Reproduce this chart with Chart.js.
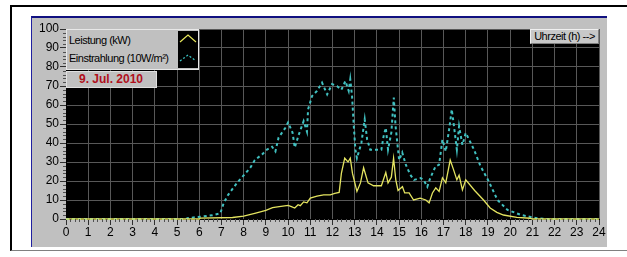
<!DOCTYPE html>
<html lang="de">
<head>
  <meta charset="UTF-8" />
  <title>Leistung / Einstrahlung 9. Jul. 2010</title>
  <script src="https://cdn.jsdelivr.net/npm/chart.js"></script>
  <style>
    body { margin: 0; width: 627px; height: 257px; background: #fff; position: relative; overflow: hidden; font-family: "Liberation Sans", Arial, sans-serif; }
    .frame { position: absolute; left: 10px; top: 5px; width: 640px; height: 243px; border-top: 2px solid #000; border-left: 2px solid #000; border-bottom: 1px solid #808080; }
    .panel { position: absolute; left: 31px; top: 16px; width: 576px; height: 231px; background: #c0c0c0; box-sizing: border-box; border-top: 2px solid #101080; border-left: 1px solid #2020a0; }
    #chart { position: absolute; left: 31px; top: 16px; }
    .legend { position: absolute; left: 66px; top: 29px; width: 133px; height: 41px; background: #c0c0c0; box-sizing: border-box; border: 1px solid #e8e8e8; font-size: 11px; letter-spacing: -0.5px; color: #000; white-space: nowrap; }
    .legend .l1 { position: absolute; left: 2px; top: 4px; }
    .legend .l2 { position: absolute; left: 2px; top: 22px; }
    .legend svg { position: absolute; left: 111px; top: 1px; }
    .date { position: absolute; left: 66px; top: 71px; width: 91px; height: 17px; background: #c0c0c0; box-sizing: border-box; border: 1px solid #e0e0e0; color: #b0101c; font-weight: bold; font-size: 12px; padding-left: 12px; line-height: 15px; }
    .unit { position: absolute; left: 530px; top: 29px; width: 69px; height: 15px; background: #c8c8c8; box-sizing: border-box; border: 1px solid #f0f0f0; border-right-color: #808080; border-bottom-color: #808080; font-size: 11px; letter-spacing: -0.5px; line-height: 13px; text-align: center; color: #000; white-space: nowrap; }
  </style>
</head>
<body>
  <div class="frame"></div>
  <div class="panel"></div>
  <canvas id="chart" width="576" height="231"></canvas>

  <div class="legend">
    <span class="l1">Leistung (kW)</span>
    <span class="l2">Einstrahlung (10W/m²)</span>
    <svg width="20" height="37" viewBox="0 0 20 37">
      <rect x="0" y="0" width="20" height="37" fill="#000"/>
      <polyline points="2,11 10,4 18,11" fill="none" stroke="#e6e65a" stroke-width="1.2"/>
      <polyline points="2,30 10,24 18,30" fill="none" stroke="#3cc8c8" stroke-width="1.2" stroke-dasharray="2,2"/>
    </svg>
  </div>
  <div class="date">9. Jul. 2010</div>
  <div class="unit">Uhrzeit (h) --&gt;</div>

  <script>
    // Leistung (kW), solid yellow
    const powerHours = [0, 6, 6.05, 7.5, 8, 8.5, 9, 9.3, 9.6, 10, 10.15, 10.3, 10.45, 10.55, 10.7, 10.85, 11, 11.3, 11.6, 11.9, 12.1, 12.3,
      12.4, 12.55, 12.7, 12.8, 12.9, 13.1, 13.26, 13.4, 13.6, 13.85, 14.2, 14.4, 14.5, 14.65, 14.75, 14.85, 14.95, 15.15, 15.25,
      15.45, 15.65, 15.95, 16.2, 16.35, 16.5, 16.65, 16.8, 16.95, 17.1, 17.3, 17.45, 17.6, 17.7, 17.85, 18, 18.4, 18.8, 19.1,
      19.4, 19.7, 20.3, 20.9, 21, 24];
    const powerValues = [0, 0, 0.5, 0.8, 1.5, 3, 4.5, 6, 6.5, 7.2, 6.5, 5.8, 7.5, 7, 9, 8.5, 11, 12, 12.7, 12.7, 13.5, 14,
      24, 32, 30, 32, 24, 14.5, 19, 27, 19, 17.5, 17.5, 24.5, 19, 22, 32, 20.6, 15, 17, 13.7,
      13.7, 10, 11, 10, 8.5, 13.7, 16.4, 14.5, 21.7, 19, 31, 26, 20.6, 23, 15.3, 20.6, 15, 10, 5.8,
      3.5, 2.1, 0.9, 0.4, 0, 0];

    // Einstrahlung (10 W/m²), dashed cyan
    const irrHours = [0, 5.4, 5.5, 6.05, 6.6, 6.95, 7.1, 7.3, 7.7, 8, 8.3, 8.5, 8.83, 9.05, 9.28, 9.43, 9.57, 9.88, 10, 10.2,
      10.3, 10.47, 10.7, 10.85, 10.9, 11.08, 11.3, 11.53, 11.76, 11.98, 12.2, 12.4, 12.58, 12.73, 12.8, 12.88, 12.96, 13.03,
      13.1, 13.3, 13.45, 13.56, 13.7, 14.2, 14.3, 14.4, 14.5, 14.65, 14.76, 14.84, 15, 15.14, 15.3, 15.5, 15.67, 15.97, 16.1,
      16.27, 16.4, 16.64, 16.8, 16.95, 17.1, 17.25, 17.37, 17.47, 17.6, 17.7, 17.85, 18, 18.15, 18.37, 18.67, 19, 19.43,
      19.88, 20.5, 21.2, 21.7, 24];
    const irrValues = [0, 0, 0.5, 1.2, 2, 3, 8.4, 12.7, 19, 23, 27, 31, 34, 36.5, 38, 35.6, 42.8, 48, 50.8, 45.5,
      37.6, 44, 51.5, 46, 57.7, 64.7, 67.4, 71.8, 65.6, 71, 70, 68, 72.6, 67.4, 73.5, 64.7, 48.8, 36.5,
      32, 40, 52.4, 41.8, 36.5, 36.5, 43.5, 48, 36.5, 45.5, 63.9, 48.8, 31, 35, 28.6, 23.3, 20.6, 21.5, 20.6,
      17, 21.5, 27.7, 28.6, 41.8, 35.6, 47, 57.7, 48.8, 36.5, 48.8, 39, 45.3, 41.8, 36.5, 27.7, 20.6, 10,
      4.8, 2.1, 0.4, 0, 0];

    const xTicks = [0, 24, 1];
    const yTicks = [0, 100, 10];

    const toPoints = (xs, ys) => xs.map((x, i) => ({ x: x, y: ys[i] }));

    // black plot background + ruler minor ticks
    const plotDecor = {
      id: 'plotDecor',
      beforeDraw(chart) {
        const a = chart.chartArea, ctx = chart.ctx;
        ctx.save();
        ctx.fillStyle = '#000';
        ctx.fillRect(a.left, a.top, a.right - a.left, a.bottom - a.top);
        ctx.restore();
      },
      afterDraw(chart) {
        const a = chart.chartArea, ctx = chart.ctx;
        const xs = chart.scales.x, ys = chart.scales.y;
        ctx.save();
        ctx.strokeStyle = '#505050';
        ctx.lineWidth = 1;
        ctx.beginPath();
        for (let i = 0; i <= 120; i++) {
          if (i % 5 === 0) continue;
          const px = Math.round(xs.getPixelForValue(i / 5)) + 0.5;
          ctx.moveTo(px, a.bottom);
          ctx.lineTo(px, a.bottom + 3);
        }
        for (let v = 0; v <= 100; v += 2) {
          if (v % 10 === 0) continue;
          const py = Math.round(ys.getPixelForValue(v)) + 0.5;
          ctx.moveTo(a.left - 3, py);
          ctx.lineTo(a.left, py);
        }
        ctx.stroke();
        ctx.restore();
      }
    };

    new Chart(document.getElementById('chart'), {
      type: 'line',
      data: {
        datasets: [{
          label: 'Leistung (kW)',
          data: toPoints(powerHours, powerValues),
          borderColor: '#e4e460',
          borderWidth: 1.3,
          pointRadius: 0,
          tension: 0,
          order: 0,
          clip: 3
        }, {
          label: 'Einstrahlung (10W/m²)',
          data: toPoints(irrHours, irrValues),
          borderColor: '#40c0c0',
          borderWidth: 2,
          borderDash: [3, 3],
          pointRadius: 0,
          tension: 0,
          order: 1,
          clip: 3
        }]
      },
      options: {
        responsive: false,
        animation: false,
        events: [],
        layout: { padding: { left: 0, right: 8, top: 13, bottom: 0 } },
        plugins: { legend: { display: false }, tooltip: { enabled: false } },
        scales: {
          x: {
            type: 'linear',
            min: xTicks[0], max: xTicks[1],
            afterFit(s) { s.height = 28; },
            ticks: { stepSize: xTicks[2], color: '#000', padding: 0, maxRotation: 0, autoSkip: false,
              font: { family: 'Liberation Sans', size: 12 } },
            grid: { color: '#585858', tickColor: '#303030', tickLength: 6 },
            border: { color: '#000' }
          },
          y: {
            min: yTicks[0], max: yTicks[1],
            afterFit(s) { s.width = 35; },
            ticks: { stepSize: yTicks[2], color: '#000', padding: 1,
              font: { family: 'Liberation Sans', size: 12 } },
            grid: { color: '#585858', tickColor: '#303030', tickLength: 6 },
            border: { color: '#000' }
          }
        }
      },
      plugins: [plotDecor]
    });
  </script>
</body>
</html>
